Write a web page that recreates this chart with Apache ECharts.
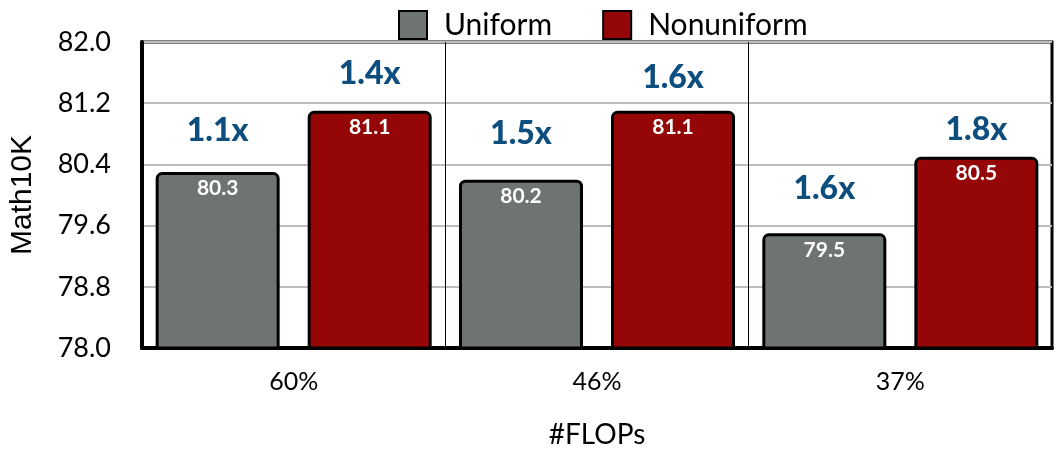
<!DOCTYPE html>
<html>
<head>
<meta charset="utf-8">
<script src="https://cdn.jsdelivr.net/npm/echarts@6/dist/echarts.min.js"></script>
<style>
html,body{margin:0;padding:0;background:#fff;}
#c{width:1057px;height:454px;}
</style>
</head>
<body>
<div id="c"></div>
<script>
const categories = ['60%', '46%', '37%'];
const uniformValues = [80.3, 80.2, 79.5];
const nonuniformValues = [81.1, 81.1, 80.5];
const uniformSpeedup = ['1.1x', '1.5x', '1.6x'];
const nonuniformSpeedup = ['1.4x', '1.6x', '1.8x'];
const yTicks = [78.0, 78.8, 79.6, 80.4, 81.2, 82.0];

// label gaps (style only)
const uniformGap = [25, 30, 29];
const nonuniformGap = [21, 17, 11];

const FONT = 'Lato';
const GRAY = '#6e7471';
const RED = '#950606';
const BLUE = '#0d4e7f';

const chart = echarts.init(document.getElementById('c'), null, {renderer: 'canvas'});

function valueSeries(name, values, color, stack) {
  return {
    name: name,
    type: 'bar',
    stack: stack,
    barWidth: 124,
    barGap: '22.6%',
    data: values,
    itemStyle: {color: color, borderColor: '#000', borderWidth: 3, borderRadius: [5, 5, 0, 0]},
    label: {
      show: true, position: 'insideTop', distance: 6,
      color: '#fff', fontFamily: FONT, fontSize: 21, fontWeight: 'bold',
      formatter: p => values[p.dataIndex].toFixed(1)
    },
    emphasis: {disabled: true},
    z: 3
  };
}

function speedSeries(name, texts, gaps, stack) {
  return {
    name: name,
    type: 'bar',
    stack: stack,
    barWidth: 124,
    barGap: '22.6%',
    data: texts.map((t, i) => ({
      value: 0,
      label: {distance: gaps[i]}
    })),
    itemStyle: {color: 'rgba(0,0,0,0)', borderWidth: 0},
    label: {
      show: true, position: 'top',
      color: BLUE, fontFamily: FONT, fontSize: 32, fontWeight: 900,
      formatter: p => texts[p.dataIndex]
    },
    emphasis: {disabled: true},
    z: 4
  };
}

chart.setOption({
  animation: false,
  backgroundColor: '#fff',
  legend: {
    data: ['Uniform', 'Nonuniform'],
    top: 5,
    left: 393,
    itemWidth: 28,
    itemHeight: 28,
    itemGap: 50,
    icon: 'rect',
    textStyle: {fontFamily: FONT, fontSize: 30, color: '#000', padding: [0, 0, 0, 12]}
  },
  grid: {
    left: 139, right: 5, top: 42, bottom: 103,
    show: true, borderColor: '#000', borderWidth: 3, backgroundColor: 'transparent'
  },
  xAxis: {
    type: 'category',
    data: categories,
    name: '#FLOPs',
    nameLocation: 'middle',
    nameGap: 73,
    nameTextStyle: {fontFamily: FONT, fontSize: 28, color: '#000'},
    axisLine: {show: true, lineStyle: {color: '#000', width: 4}},
    axisTick: {show: false},
    axisLabel: {fontFamily: FONT, fontSize: 25, color: '#000', margin: 21},
    splitLine: {show: true, lineStyle: {color: '#000', width: 1}}
  },
  yAxis: {
    type: 'value',
    min: 78,
    max: 82,
    interval: 0.8,
    name: 'Math10K',
    nameLocation: 'middle',
    nameGap: 104,
    nameRotate: 90,
    nameTextStyle: {fontFamily: 'Liberation Sans', fontSize: 30, color: '#000'},
    axisLine: {show: true, lineStyle: {color: '#000', width: 4}},
    axisTick: {show: false},
    axisLabel: {
      fontFamily: FONT, fontSize: 27, color: '#000', margin: 31,
      formatter: v => {
        const t = yTicks.find(x => Math.abs(x - v) < 1e-6);
        return (t !== undefined ? t : v).toFixed(1);
      }
    },
    splitLine: {show: true, lineStyle: {color: '#bdbdbd', width: 2}}
  },
  series: [
    valueSeries('Uniform', uniformValues, GRAY, 'u'),
    valueSeries('Nonuniform', nonuniformValues, RED, 'n'),
    speedSeries('UniformSpeedup', uniformSpeedup, uniformGap, 'u'),
    speedSeries('NonuniformSpeedup', nonuniformSpeedup, nonuniformGap, 'n')
  ]
});
</script>
</body>
</html>
